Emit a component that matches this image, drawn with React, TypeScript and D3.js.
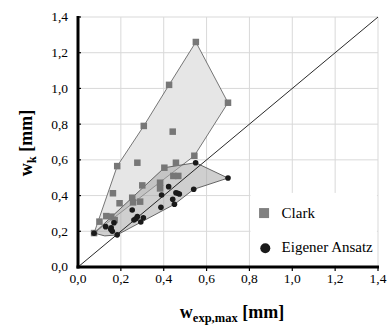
import * as d3 from "d3";
import React, { useEffect, useRef } from "react";

const mainWidth = 388;
const mainHeight = 327;
const margin = { top: 17, right: 10, bottom: 60, left: 78 };
const width = mainWidth - margin.left - margin.right;
const height = mainHeight - margin.top - margin.bottom;

const tickValues = [0, 0.2, 0.4, 0.6, 0.8, 1.0, 1.2, 1.4];
const tickLabels = ["0,0", "0,2", "0,4", "0,6", "0,8", "1,0", "1,2", "1,4"];

// Clark
const clarkX = [0.075, 0.1, 0.132, 0.155, 0.171, 0.163, 0.194, 0.183, 0.253, 0.257, 0.29, 0.277, 0.3, 0.307, 0.383, 0.383, 0.403, 0.425, 0.442, 0.445, 0.468, 0.457, 0.543, 0.55, 0.7];
const clarkY = [0.19, 0.254, 0.285, 0.282, 0.263, 0.413, 0.357, 0.565, 0.388, 0.362, 0.366, 0.584, 0.457, 0.79, 0.472, 0.44, 0.556, 1.02, 0.758, 0.51, 0.51, 0.584, 0.623, 1.26, 0.92];

// Eigener Ansatz
const eigenX = [0.075, 0.129, 0.153, 0.16, 0.155, 0.168, 0.183, 0.253, 0.261, 0.277, 0.305, 0.293, 0.27, 0.39, 0.387, 0.423, 0.442, 0.45, 0.457, 0.465, 0.473, 0.54, 0.549, 0.7];
const eigenY = [0.189, 0.226, 0.211, 0.2, 0.22, 0.248, 0.18, 0.319, 0.263, 0.282, 0.276, 0.252, 0.27, 0.403, 0.334, 0.45, 0.379, 0.351, 0.416, 0.413, 0.409, 0.435, 0.584, 0.498];

// envelopes
const clarkHullX = [0.075, 0.183, 0.307, 0.425, 0.55, 0.7, 0.543];
const clarkHullY = [0.19, 0.565, 0.79, 1.02, 1.26, 0.92, 0.623];
const eigenHullX = [0.075, 0.403, 0.549, 0.7, 0.54, 0.45, 0.183, 0.125];
const eigenHullY = [0.19, 0.556, 0.584, 0.498, 0.435, 0.351, 0.18, 0.174];

const font = "Liberation Serif, Times New Roman, DejaVu Serif, serif";

function App() {
  const ref = useRef<SVGSVGElement>(null);

  useEffect(() => {
    const svg = d3.select(ref.current);
    svg.selectAll("*").remove();

    const x = d3.scaleLinear().domain([0, 1.4]).range([0, width]);
    const y = d3.scaleLinear().domain([0, 1.4]).range([height, 0]);

    const g = svg
      .append("g")
      .attr("transform", `translate(${margin.left},${margin.top})`);

    // grid
    g.selectAll(".gx")
      .data(tickValues.slice(1))
      .join("line")
      .attr("x1", (d) => x(d))
      .attr("x2", (d) => x(d))
      .attr("y1", 0)
      .attr("y2", height)
      .attr("stroke", "#d9d9d9")
      .attr("stroke-width", 1);
    g.selectAll(".gy")
      .data(tickValues.slice(1))
      .join("line")
      .attr("y1", (d) => y(d))
      .attr("y2", (d) => y(d))
      .attr("x1", 0)
      .attr("x2", width)
      .attr("stroke", "#d9d9d9")
      .attr("stroke-width", 1);

    const poly = (xs: number[], ys: number[]) =>
      xs.map((v, i) => `${x(v)},${y(ys[i])}`).join(" ");

    g.append("polygon")
      .attr("points", poly(clarkHullX, clarkHullY))
      .attr("fill", "#e6e6e6")
      .attr("stroke", "#555")
      .attr("stroke-width", 0.8);

    g.append("polygon")
      .attr("points", poly(eigenHullX, eigenHullY))
      .attr("fill", "#a8a8a8")
      .attr("fill-opacity", 0.55)
      .attr("stroke", "#444")
      .attr("stroke-width", 0.8);

    // 1:1 line
    g.append("line")
      .attr("x1", x(0))
      .attr("y1", y(0))
      .attr("x2", x(1.4))
      .attr("y2", y(1.4))
      .attr("stroke", "#111")
      .attr("stroke-width", 0.9);

    // legend box (hides grid)
    g.append("rect")
      .attr("x", x(0.805))
      .attr("y", y(0.415))
      .attr("width", x(1.395) - x(0.805))
      .attr("height", y(0.01) - y(0.415))
      .attr("fill", "#fff");

    const sq = 6.5;
    g.selectAll(".clark")
      .data(clarkX)
      .join("rect")
      .attr("x", (d) => x(d) - sq / 2)
      .attr("y", (_, i) => y(clarkY[i]) - sq / 2)
      .attr("width", sq)
      .attr("height", sq)
      .attr("fill", "#777");

    g.selectAll(".eigen")
      .data(eigenX)
      .join("circle")
      .attr("cx", (d) => x(d))
      .attr("cy", (_, i) => y(eigenY[i]))
      .attr("r", 2.8)
      .attr("fill", "#1a1a1a");

    // axes
    g.append("line")
      .attr("x1", 0)
      .attr("x2", 0)
      .attr("y1", -1)
      .attr("y2", height + 1.5)
      .attr("stroke", "#000")
      .attr("stroke-width", 3);
    g.append("line")
      .attr("x1", -1.5)
      .attr("x2", width + 1)
      .attr("y1", height)
      .attr("y2", height)
      .attr("stroke", "#000")
      .attr("stroke-width", 3);

    g.selectAll(".xt")
      .data(tickValues.slice(1))
      .join("line")
      .attr("x1", (d) => x(d))
      .attr("x2", (d) => x(d))
      .attr("y1", height)
      .attr("y2", height + 4)
      .attr("stroke", "#000")
      .attr("stroke-width", 1.2);
    g.selectAll(".yt")
      .data(tickValues.slice(1))
      .join("line")
      .attr("x1", 0)
      .attr("x2", 3)
      .attr("y1", (d) => y(d))
      .attr("y2", (d) => y(d))
      .attr("stroke", "#000")
      .attr("stroke-width", 1.2);

    g.selectAll(".xl")
      .data(tickValues)
      .join("text")
      .attr("x", (d) => x(d))
      .attr("y", height + 16)
      .attr("text-anchor", "middle")
      .style("font-family", font)
      .style("font-size", "13.5px")
      .text((_, i) => tickLabels[i]);
    g.selectAll(".yl")
      .data(tickValues)
      .join("text")
      .attr("x", -10)
      .attr("y", (d) => y(d))
      .attr("dy", "0.33em")
      .attr("text-anchor", "end")
      .style("font-family", font)
      .style("font-size", "13.5px")
      .text((_, i) => tickLabels[i]);

    // legend
    const lg = g.append("g").style("font-family", font).style("font-size", "15px");
    lg.append("rect")
      .attr("x", x(0.845))
      .attr("y", y(0.33))
      .attr("width", 10)
      .attr("height", 10)
      .attr("fill", "#808080");
    lg.append("text").attr("x", x(0.95)).attr("y", y(0.275)).text("Clark");
    lg.append("circle")
      .attr("cx", x(0.874))
      .attr("cy", y(0.105))
      .attr("r", 5)
      .attr("fill", "#1a1a1a");
    lg.append("text").attr("x", x(0.95)).attr("y", y(0.085)).text("Eigener Ansatz");

    // axis titles
    const xt = svg
      .append("text")
      .attr("x", 232)
      .attr("y", 318)
      .attr("text-anchor", "middle")
      .style("font-family", font)
      .style("font-weight", "bold")
      .style("font-size", "18px");
    xt.append("tspan").text("w");
    xt.append("tspan").style("font-size", "12.5px").attr("dy", 4).text("exp,max");
    xt.append("tspan").attr("dy", -4).text(" [mm]");

    const yt = svg
      .append("text")
      .attr("transform", "translate(32,143) rotate(-90)")
      .attr("text-anchor", "middle")
      .style("font-family", font)
      .style("font-weight", "bold")
      .style("font-size", "18px");
    yt.append("tspan").text("w");
    yt.append("tspan").style("font-size", "12.5px").attr("dy", 4).text("k");
    yt.append("tspan").attr("dy", -4).text(" [mm]");
  }, []);

  return (
    <svg
      ref={ref}
      width={mainWidth}
      height={mainHeight}
      style={{ position: "absolute", left: 0, top: 0, background: "#fff" }}
    ></svg>
  );
}

export default App;
